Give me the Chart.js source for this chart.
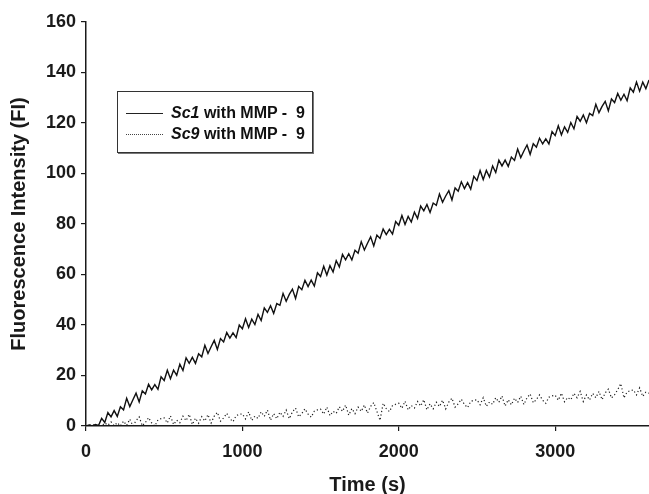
<!DOCTYPE html>
<html>
<head>
<meta charset="utf-8">
<script src="https://cdn.jsdelivr.net/npm/chart.js@4.4.1/dist/chart.umd.min.js"></script>
<style>
  html, body { margin: 0; padding: 0; background: #fff; }
  #wrap { position: relative; width: 649px; height: 494px; }
  #legend {
    position: absolute; left: 117px; top: 91px; width: 196px; height: 62px;
    box-sizing: border-box; border: 1px solid #333; box-shadow: 1px 1px 0 #777;
    background: #fff; font-family: "Liberation Sans", Arial, sans-serif;
    font-weight: bold; font-size: 16px; color: #111;
  }
  .row { position: absolute; left: 0; height: 20px; line-height: 20px; white-space: pre; }
  .sample { position: absolute; left: 8px; width: 37px; top: 10px; height: 0; }
  .txt { position: absolute; left: 53px; top: 0; }
</style>
</head>
<body>
<div id="wrap">
  <canvas id="c" width="649" height="494"></canvas>
  <div id="legend">
    <div class="row" style="top:11px;width:190px"><div class="sample" style="border-top:1px solid #222"></div><div class="txt"><i>Sc1</i> with MMP -  9</div></div>
    <div class="row" style="top:32px;width:190px"><div class="sample" style="border-top:1px dotted #444"></div><div class="txt"><i>Sc9</i> with MMP -  9</div></div>
  </div>
</div>
<script>
const seriesNames = ["Sc1 with MMP - 9", "Sc9 with MMP - 9"];
const xTickValues = [0, 1000, 2000, 3000];
const yTickValues = [0, 20, 40, 60, 80, 100, 120, 140, 160];
// time in seconds, one reading every 20 s
const times = [
  0,20,40,60,80, 100,120,140,160,180, 200,220,240,260,280, 300,320,340,360,380,
  400,420,440,460,480, 500,520,540,560,580, 600,620,640,660,680, 700,720,740,760,780,
  800,820,840,860,880, 900,920,940,960,980, 1000,1020,1040,1060,1080, 1100,1120,1140,1160,1180,
  1200,1220,1240,1260,1280, 1300,1320,1340,1360,1380, 1400,1420,1440,1460,1480, 1500,1520,1540,1560,1580,
  1600,1620,1640,1660,1680, 1700,1720,1740,1760,1780, 1800,1820,1840,1860,1880, 1900,1920,1940,1960,1980,
  2000,2020,2040,2060,2080, 2100,2120,2140,2160,2180, 2200,2220,2240,2260,2280, 2300,2320,2340,2360,2380,
  2400,2420,2440,2460,2480, 2500,2520,2540,2560,2580, 2600,2620,2640,2660,2680, 2700,2720,2740,2760,2780,
  2800,2820,2840,2860,2880, 2900,2920,2940,2960,2980, 3000,3020,3040,3060,3080, 3100,3120,3140,3160,3180,
  3200,3220,3240,3260,3280, 3300,3320,3340,3360,3380, 3400,3420,3440,3460,3480, 3500,3520,3540,3560,3580,
  3600
];
const sc1 = [
  0, 0.4, 0, 0.6, 0.2,  3.0, 1.4, 5.3, 3.6, 6.1,  3.8, 7.6, 6.4, 11.0, 7.7,  10.4, 13.0, 9.5, 13.9, 12.7,
  16.5, 14.3, 16.4, 14.5, 19.5,  18.0, 22.1, 18.7, 22.1, 20.1,  24.5, 22.0, 27.0, 24.8, 27.2,  24.8, 28.6, 27.4, 32.0, 28.7,
  31.4, 33.9, 30.3, 34.6, 33.3,  37.0, 34.8, 36.9, 35.0, 40.0,  38.5, 42.5, 39.0, 42.3, 40.2,  44.2, 41.8, 46.8, 45.0, 47.6,
  44.6, 48.5, 47.8, 52.5, 49.4,  52.1, 54.2, 50.5, 55.3, 54.0,  57.7, 55.2, 57.8, 55.4, 60.7,  59.2, 63.3, 59.8, 63.5, 61.0,
  65.5, 63.0, 68.0, 65.8, 68.2,  65.8, 69.6, 68.4, 73.0, 69.7,  72.4, 74.9, 71.3, 75.6, 74.3,  78.0, 75.8, 77.9, 76.0, 81.0,
  79.5, 83.4, 79.8, 83.0, 80.8,  84.7, 82.2, 87.1, 85.2, 87.7,  84.6, 88.3, 87.4, 91.9, 88.6,  91.1, 93.2, 89.5, 94.3, 93.0,
  96.7, 94.0, 96.4, 93.8, 98.9,  97.2, 101.2, 97.6, 101.2, 98.6,  103.0, 100.4, 105.3, 103.0, 105.3,  102.8, 106.5, 105.2, 109.7, 106.3,
  108.9, 111.3, 107.6, 111.8, 110.4,  114.0, 111.7, 113.7, 111.7, 116.6,  115.0, 118.9, 115.3, 118.5, 116.3,  120.2, 117.7, 122.6, 120.7, 123.2,
  120.1, 123.8, 122.9, 127.4, 124.1,  126.6, 128.6, 124.8, 129.5, 128.1,  131.7, 129.0, 131.4, 128.8, 133.9,  132.2, 136.2, 132.6, 136.2, 133.6,
  137.0
];
const sc9 = [
  0, 0.3, 0.6, 0, 0.2,  0, 1.2, 0.3, 1.6, 0.1,  1.3, 0, 1.9, 0.2, 2.7,  0, 2.1, 3.6, 0.1, 1.4,
  3.3, 1.2, 0, 2.4, 2.9,  3.2, 1.2, 4.0, 0.6, 2.3,  1.3, 3.9, 2.1, 4.6, 0.6,  3.1, 1.1, 3.7, 2.0, 4.5,
  1.2, 3.9, 5.4, 1.9, 3.2,  5.0, 2.9, 1.7, 4.1, 4.6,  4.8, 2.8, 5.6, 2.2, 3.9,  3.0, 5.6, 3.8, 6.3, 2.3,
  4.9, 2.9, 5.5, 3.8, 6.3,  2.9, 5.6, 7.1, 3.6, 4.9,  6.8, 4.7, 3.5, 5.9, 6.4,  6.7, 4.7, 7.5, 4.1, 5.8,
  5.0, 7.6, 5.8, 8.3, 4.3,  6.9, 4.9, 7.5, 5.8, 8.3,  5.1, 7.8, 9.3, 5.8, 2.2,  9.0, 6.9, 5.7, 8.1, 8.6,
  9.0, 7.0, 9.8, 6.4, 8.1,  7.1, 9.7, 7.9, 10.4, 6.4,  8.8, 6.8, 9.4, 7.7, 10.2,  6.8, 9.5, 11.0, 7.5, 8.8,
  10.6, 8.5, 7.3, 9.7, 10.2,  10.4, 8.4, 11.2, 7.8, 9.5,  8.6, 11.2, 9.4, 11.9, 7.9,  10.4, 8.4, 11.0, 9.3, 11.8,
  8.5, 11.2, 12.7, 9.2, 10.5,  12.3, 10.2, 9.0, 11.4, 11.9,  12.2, 10.2, 13.0, 9.6, 11.3,  10.4, 13.0, 11.2, 13.7, 9.7,
  12.3, 10.3, 12.9, 11.2, 13.7,  10.4, 13.1, 14.6, 11.1, 12.4,  14.4, 16.8, 11.1, 13.5, 14.0,  14.3, 12.3, 15.1, 11.7, 13.4,
  13.0
];

const FONT = '"Liberation Sans", Arial, sans-serif';
const AXIS = '#1a1a1a';

new Chart(document.getElementById('c'), {
  type: 'line',
  data: {
    datasets: [
      {
        label: seriesNames[0],
        data: times.map((t, i) => ({ x: t, y: sc1[i] })),
        borderColor: '#111', borderWidth: 1.4, pointRadius: 0, tension: 0, fill: false
      },
      {
        label: seriesNames[1],
        data: times.map((t, i) => ({ x: t, y: sc9[i] })),
        borderColor: '#1e1e1e', borderWidth: 1.2, borderDash: [1.2, 2.4], pointRadius: 0, tension: 0, fill: false
      }
    ]
  },
  options: {
    responsive: false,
    animation: false,
    devicePixelRatio: 1,
    layout: { padding: { top: 22, right: 0, left: 0, bottom: 0 } },
    plugins: { legend: { display: false }, tooltip: { enabled: false } },
    scales: {
      x: {
        type: 'linear', min: 0, max: 3600,
        afterBuildTicks: s => { s.ticks = xTickValues.map(v => ({ value: v })); },
        afterFit: s => { s.height = 68; },
        grid: { drawOnChartArea: false, drawTicks: true, tickLength: 5, color: AXIS, lineWidth: 1.2 },
        border: { display: true, color: AXIS, width: 1.5 },
        ticks: { color: '#1a1a1a', font: { family: FONT, size: 18, weight: 'bold' }, padding: 10, maxRotation: 0,
                 callback: v => String(v) },
        title: { display: true, text: 'Time (s)', color: '#1a1a1a', font: { family: FONT, size: 20, weight: 'bold' }, padding: { top: 0, bottom: -3 } }
      },
      y: {
        type: 'linear', min: 0, max: 160,
        afterBuildTicks: s => { s.ticks = yTickValues.map(v => ({ value: v })); },
        afterFit: s => { s.width = 86; },
        grid: { drawOnChartArea: false, drawTicks: true, tickLength: 5, color: AXIS, lineWidth: 1.2 },
        border: { display: true, color: AXIS, width: 1.5 },
        ticks: { color: '#1a1a1a', font: { family: FONT, size: 18, weight: 'bold' }, padding: 5,
                 callback: v => String(v) },
        title: { display: true, text: 'Fluorescence Intensity (FI)', color: '#1a1a1a', font: { family: FONT, size: 20, weight: 'bold' }, padding: { top: 7 } }
      }
    }
  }
});
</script>
</body>
</html>
